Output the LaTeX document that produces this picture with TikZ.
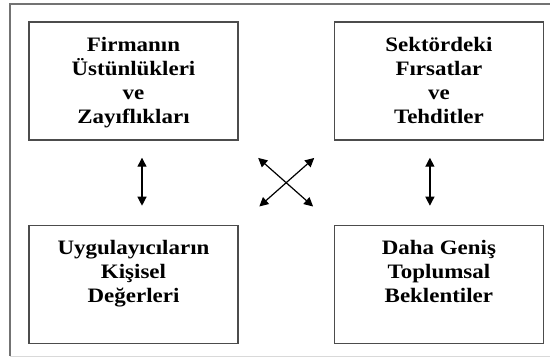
\documentclass[tikz,border=0pt]{standalone}
\usepackage{fontspec}
\usepackage{graphicx}
\setmainfont{Liberation Serif}
\usetikzlibrary{arrows.meta, positioning}

% stacked, slightly widened lines of a box
\newcommand{\boxlines}[1]{\scalebox{1.12}[1]{\begin{tabular}{@{}c@{}}#1\end{tabular}}}

\begin{document}
\begin{tikzpicture}[
    x=1bp, y=-1bp,
    node distance=84bp and 95bp,
    box/.style={draw=black!70, line width=1.4bp, minimum width=209bp, minimum height=118bp, inner sep=0pt},
    txt/.style={anchor=north, inner sep=0pt, yshift=-13bp,
        font=\bfseries\fontsize{20.5bp}{24bp}\selectfont},
    twoway/.style={{Triangle[length=9bp,width=9bp]}-{Triangle[length=9bp,width=9bp]}, line width=1.2bp}
]
  \useasboundingbox (0,0) rectangle (550,357);

  % --- outer frame ---
  \draw[black!55, line width=1.4bp] (552,4) -- (10,4) -- (10,356);
  \draw[black!15, line width=1bp] (10,356) -- (552,356);

  % --- four boxes ---
  \node[box, label={[txt]north:{\boxlines{Firmanın\\Üstünlükleri\\ve\\Zayıflıkları}}}] (firma) at (133.5,81) {};
  \node[box, right=of firma, label={[txt]north:{\boxlines{Sektördeki\\Fırsatlar\\ve\\Tehditler}}}] (sektor) {};
  \node[box, below=of firma, label={[txt]north:{\boxlines{Uygulayıcıların\\Kişisel\\Değerleri}}}] (uygu) {};
  \node[box, right=of uygu, label={[txt]north:{\boxlines{Daha Geniş\\Toplumsal\\Beklentiler}}}] (toplum) {};

  % --- two-way arrows ---
  \draw[twoway, shorten <=17bp, shorten >=19bp] ([xshift=8.5bp]firma.south) -- ([xshift=8.5bp]uygu.north);
  \draw[twoway, shorten <=17bp, shorten >=19bp] ([xshift=-9bp]sektor.south) -- ([xshift=-9bp]toplum.north);
  \draw[twoway, shorten <=26bp, shorten >=27.5bp] (firma.south east) -- (toplum.north west);
  \draw[twoway, shorten <=26bp, shorten >=27.5bp] (sektor.south west) -- (uygu.north east);

\end{tikzpicture}
\end{document}
